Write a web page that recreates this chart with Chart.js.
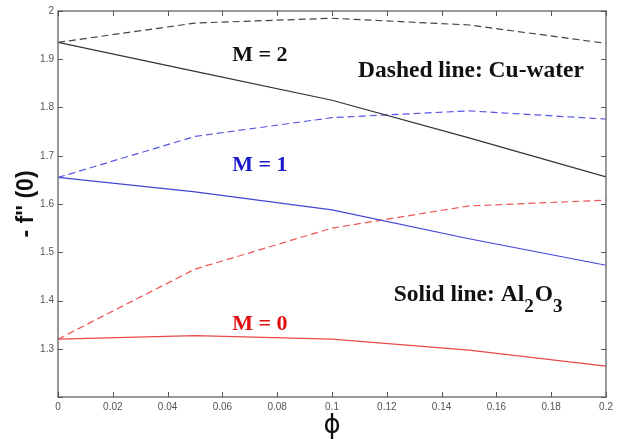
<!DOCTYPE html>
<html>
<head>
<meta charset="utf-8">
<script src="https://cdn.jsdelivr.net/npm/chart.js@4/dist/chart.umd.min.js"></script>
<style>
  html, body { margin: 0; padding: 0; background: #fff; }
  #wrap { width: 622px; height: 439px; }
</style>
</head>
<body>
<div id="wrap"><canvas id="chart" width="622" height="439"></canvas></div>
<script>
// volume fraction phi
const phi = [0, 0.05, 0.1, 0.15, 0.2];

// -f''(0) values, dashed = Cu-water, solid = Al2O3
const cuM2 = [1.935, 1.975, 1.985, 1.971, 1.933];
const alM2 = [1.935, 1.875, 1.815, 1.737, 1.656];
const cuM1 = [1.655, 1.740, 1.779, 1.793, 1.776];
const alM1 = [1.655, 1.625, 1.588, 1.528, 1.473];
const cuM0 = [1.320, 1.465, 1.550, 1.596, 1.608];
const alM0 = [1.320, 1.327, 1.320, 1.297, 1.264];

const xTicks = [0, 0.02, 0.04, 0.06, 0.08, 0.1, 0.12, 0.14, 0.16, 0.18, 0.2];
const yTicks = [1.2, 1.3, 1.4, 1.5, 1.6, 1.7, 1.8, 1.9, 2];

// text labels placed in data units
const notes = [
    { text: 'M = 2', x: 0.0737, y: 1.909, color: '#111', align: 'center', size: 22 },
    { text: 'M = 1', x: 0.0737, y: 1.681, color: '#1a1acc', align: 'center', size: 22 },
    { text: 'M = 0', x: 0.0737, y: 1.351, color: '#e01010', align: 'center', size: 22 },
    { text: 'Dashed line: Cu-water', x: 0.1095, y: 1.876, color: '#111', align: 'left', size: 23.5 }
];

const pts = vals => phi.map((p, i) => ({ x: p, y: vals[i] }));

function series(label, vals, color, dashed) {
    return {
        label: label,
        data: pts(vals),
        borderColor: color,
        borderWidth: 1.2,
        borderDash: dashed ? [7, 4] : [],
        pointRadius: 0,
        tension: 0,
        fill: false
    };
}

const boxPlugin = {
    id: 'box',
    afterDraw(chart) {
        const ctx = chart.ctx;
        const a = chart.chartArea;
        const xs = chart.scales.x, ys = chart.scales.y;
        ctx.save();
        ctx.strokeStyle = '#777';
        ctx.lineWidth = 1.5;
        ctx.strokeRect(a.left, a.top, a.right - a.left, a.bottom - a.top);
        // inward ticks on all four sides
        ctx.lineWidth = 1;
        ctx.strokeStyle = '#555';
        const t = 5;
        xTicks.forEach(v => {
            const px = Math.round(xs.getPixelForValue(v)) + 0.5;
            ctx.beginPath();
            ctx.moveTo(px, a.bottom); ctx.lineTo(px, a.bottom - t);
            ctx.moveTo(px, a.top); ctx.lineTo(px, a.top + t);
            ctx.stroke();
        });
        yTicks.forEach(v => {
            const py = Math.round(ys.getPixelForValue(v)) + 0.5;
            ctx.beginPath();
            ctx.moveTo(a.left, py); ctx.lineTo(a.left + t, py);
            ctx.moveTo(a.right, py); ctx.lineTo(a.right - t, py);
            ctx.stroke();
        });

        // annotations
        ctx.textBaseline = 'middle';
        notes.forEach(n => {
            ctx.fillStyle = n.color;
            ctx.font = 'bold ' + n.size + 'px "Liberation Serif", serif';
            ctx.textAlign = n.align;
            ctx.fillText(n.text, xs.getPixelForValue(n.x), ys.getPixelForValue(n.y));
        });

        // "Solid line: Al2O3" with subscripts
        let sx = xs.getPixelForValue(0.1225);
        const sy = ys.getPixelForValue(1.411);
        ctx.fillStyle = '#111';
        ctx.textAlign = 'left';
        const big = 'bold 23.5px "Liberation Serif", serif';
        const small = 'bold 19px "Liberation Serif", serif';
        [['Solid line: Al', big, 0], ['2', small, 12], ['O', big, 0], ['3', small, 12]].forEach(p => {
            ctx.font = p[1];
            ctx.fillText(p[0], sx, sy + p[2]);
            sx += ctx.measureText(p[0]).width + (p[1] === small ? 1 : 0);
        });

        // axis titles
        ctx.fillStyle = '#111';
        ctx.font = 'bold 23px "Liberation Sans", Arial, sans-serif';
        ctx.save();
        ctx.translate(27, (a.top + a.bottom) / 2);
        ctx.rotate(-Math.PI / 2);
        ctx.textAlign = 'center';
        ctx.fillText("- f'' (0)", 0, 0);
        ctx.restore();
        ctx.font = '26px "DejaVu Sans", sans-serif';
        ctx.textAlign = 'center';
        ctx.fillText('\u03d5', (a.left + a.right) / 2, 426);
        ctx.restore();
    }
};

new Chart(document.getElementById('chart').getContext('2d'), {
    type: 'line',
    data: {
        datasets: [
            series('Cu-water, M = 2', cuM2, '#444', true),
            series('Al2O3, M = 2', alM2, '#333', false),
            series('Cu-water, M = 1', cuM1, '#5555e6', true),
            series('Al2O3, M = 1', alM1, '#4444d8', false),
            series('Cu-water, M = 0', cuM0, '#ee5555', true),
            series('Al2O3, M = 0', alM0, '#e84848', false)
        ]
    },
    options: {
        responsive: false,
        animation: false,
        layout: { padding: { left: 0, top: 11, right: 16, bottom: 0 } },
        plugins: { legend: { display: false }, tooltip: { enabled: false } },
        scales: {
            x: {
                type: 'linear',
                min: 0,
                max: 0.2,
                grid: { display: false, drawTicks: false, tickLength: 0 },
                border: { display: false },
                afterBuildTicks: s => { s.ticks = xTicks.map(v => ({ value: v })); },
                afterFit: s => { s.height = 42; },
                ticks: {
                    padding: 4,
                    color: '#555',
                    font: { family: '"Liberation Sans", Arial, sans-serif', size: 10 },
                    maxRotation: 0,
                    autoSkip: false,
                    callback: v => String(+v.toFixed(2))
                }
            },
            y: {
                min: 1.2,
                max: 2,
                grid: { display: false, drawTicks: false, tickLength: 0 },
                border: { display: false },
                afterBuildTicks: s => { s.ticks = yTicks.map(v => ({ value: v })); },
                afterFit: s => { s.width = 58; },
                ticks: {
                    padding: 4,
                    color: '#555',
                    font: { family: '"Liberation Sans", Arial, sans-serif', size: 10 },
                    autoSkip: false,
                    callback: v => (v < 1.25 ? '' : String(+v.toFixed(1)))
                }
            }
        }
    },
    plugins: [boxPlugin]
});
</script>
</body>
</html>
